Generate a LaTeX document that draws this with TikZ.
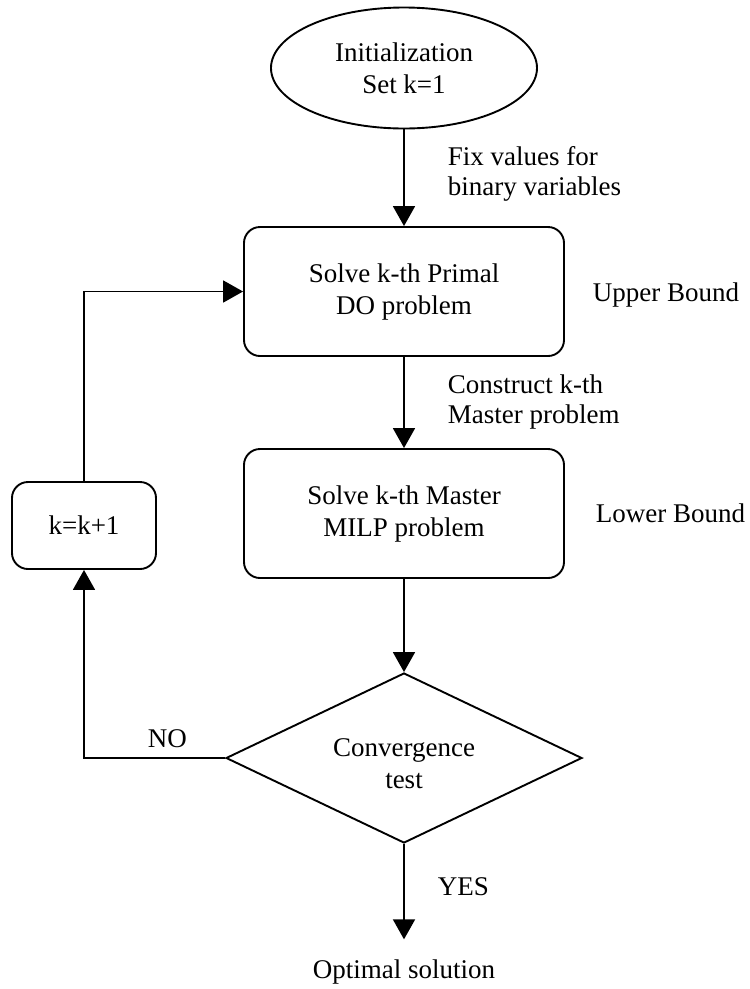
\documentclass[tikz,border=0pt]{standalone}
\usepackage{fontspec}
\setmainfont{Liberation Serif}
\usetikzlibrary{shapes.geometric,arrows.meta}

\begin{document}
\begin{tikzpicture}[x=1pt,y=-1pt,
  font=\fontsize{27}{32}\selectfont,
  line width=1.9pt,
  every node/.style={inner sep=0pt},
  arr/.style={-{Triangle[width=22pt,length=20pt]}},
  stepbox/.style={draw,rounded corners=16pt,align=center,
                  minimum width=320pt,minimum height=129pt},
  lbl/.style={anchor=base west}]

  \useasboundingbox (0,0) rectangle (750,989);

  % start
  \node[draw,ellipse,align=center,minimum width=266pt,minimum height=121pt]
    (init) at (404,68) {Initialization\\Set k=1};

  % main steps
  \node[stepbox] (primal) at (404,291.5) {Solve k-th Primal\\DO problem};
  \node[stepbox] (master) at (404,513.5) {Solve k-th Master\\MILP problem};

  % counter update
  \node[draw,rounded corners=16pt,minimum width=144pt,minimum height=87pt]
    (inc) at (84,525.5) {k=k+1};

  % decision: outline and its text
  \node[draw,diamond,minimum width=356pt,minimum height=170pt]
    (conv) at (404,758) {};
  \node[align=center] (convtext) at (404,764) {Convergence\\test};

  % end
  \node[anchor=base] (opt) at (404,978) {Optimal solution};

  % side labels
  \node[lbl] (fix1) at (447,165) {Fix values for};
  \node[lbl] (fix2) at (447,195) {binary variables};
  \node[lbl] (con1) at (447,393) {Construct k-th};
  \node[lbl] (con2) at (447,423) {Master problem};
  \node[lbl] (ub) at (592,301) {Upper Bound};
  \node[lbl] (lb) at (595,522) {Lower Bound};
  \node[lbl] (no) at (147,747) {NO};
  \node[lbl] (yes) at (437,895) {YES};

  % connectors
  \draw[arr] (init.south) -- (primal.north);
  \draw[arr] (primal.south) -- (master.north);
  \draw[arr] (master.south) -- (conv.north);
  \draw[arr] (conv.south) -- ([yshift=19pt]opt.north);
  \draw[arr] (conv.west) -| (inc.south);
  \draw[arr] (inc.north) |- (primal.west);
\end{tikzpicture}
\end{document}
